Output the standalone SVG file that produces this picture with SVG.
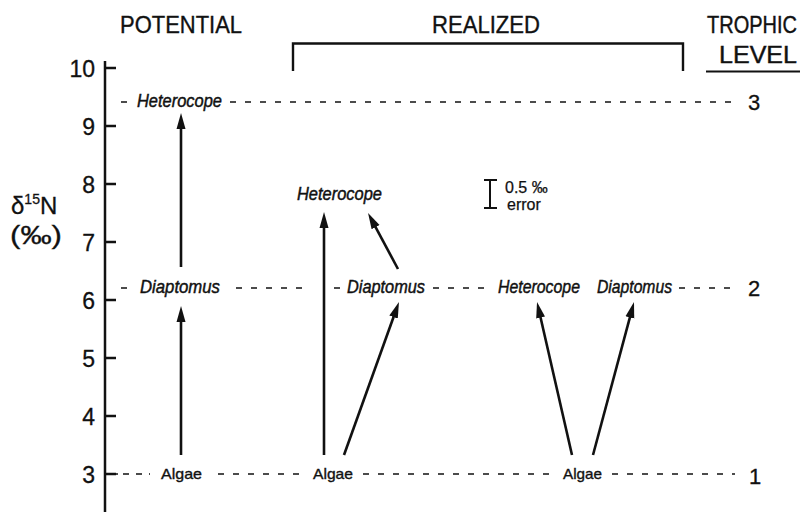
<svg xmlns="http://www.w3.org/2000/svg" width="803" height="512" viewBox="0 0 803 512">
<style>
.hdr{font-family:"Liberation Sans",Arial,sans-serif;font-size:23px;fill:#111;stroke:#111;stroke-width:0.35}
.num{font-family:"Liberation Sans",Arial,sans-serif;font-size:23px;fill:#111;stroke:#111;stroke-width:0.3}
.sp{font-family:"Liberation Sans",Arial,sans-serif;font-size:18px;font-style:italic;fill:#111;stroke:#111;stroke-width:0.45}
.alg{font-family:"Liberation Sans",Arial,sans-serif;font-size:15px;fill:#111;stroke:#111;stroke-width:0.35}
.sm{font-family:"Liberation Sans",Arial,sans-serif;font-size:16px;fill:#111;stroke:#111;stroke-width:0.25}
.ax{stroke:#111;stroke-width:2.5;fill:none}
.dash{stroke:#111;stroke-width:1.6;stroke-dasharray:6 9;fill:none}
.arr{stroke:#111;stroke-width:2.6;fill:none;marker-end:url(#ah)}
</style>
<defs>
<marker id="ah" markerUnits="userSpaceOnUse" markerWidth="18" markerHeight="10" refX="4" refY="5" orient="auto">
<path d="M0,0.5 L16,5 L0,9.5 z" fill="#111"/>
</marker>
</defs>
<rect width="803" height="512" fill="#fff"/>

<!-- headers -->
<g id="headers">
<text class="hdr" x="120" y="33" textLength="122" lengthAdjust="spacingAndGlyphs">POTENTIAL</text>
<text class="hdr" x="432" y="33" textLength="108" lengthAdjust="spacingAndGlyphs">REALIZED</text>
<text class="hdr" transform="translate(707,33) scale(1,1.2)" x="0" y="0" style="font-size:19.5px" textLength="90" lengthAdjust="spacingAndGlyphs">TROPHIC</text>
<text class="hdr" transform="translate(719,63) scale(1,1.2)" x="0" y="0" style="font-size:20px" textLength="78" lengthAdjust="spacingAndGlyphs">LEVEL</text>
<line x1="706" y1="71.5" x2="800" y2="71.5" stroke="#111" stroke-width="1.8"/>
<path d="M293,71 V43.5 H683 V71" fill="none" stroke="#111" stroke-width="2.4"/>
</g>

<!-- axis -->
<g id="axis">
<line class="ax" x1="105" y1="61" x2="105" y2="512"/>
<path class="ax" d="M105,68 H116 M105,126 H116 M105,184 H116 M105,242 H116 M105,300 H116 M105,358 H116 M105,416 H116 M105,474 H116"/>
<g class="num" text-anchor="end">
<text x="95" y="77">10</text>
<text x="95" y="135">9</text>
<text x="95" y="193">8</text>
<text x="95" y="251">7</text>
<text x="95" y="309">6</text>
<text x="95" y="367">5</text>
<text x="95" y="425">4</text>
<text x="95" y="483">3</text>
</g>
<text class="num" x="11" y="214" style="font-size:24px">δ<tspan style="font-size:14px" dy="-10">15</tspan><tspan style="font-size:24px" dy="10">N</tspan></text>
<text class="num" x="10" y="244" style="font-size:25px" textLength="52" lengthAdjust="spacingAndGlyphs">(‰)</text>
</g>

<!-- dashed level lines -->
<g id="levels">
<path class="dash" d="M121,102 H130 M230,102 H734"/>
<path class="dash" d="M121,288 H130 M236,288 H306 M334,288 H341 M433,288 H492 M679,288 H735"/>
<path class="dash" style="stroke-dasharray:2 5 6 7 6 7" d="M116,474 H150"/>
<path class="dash" d="M218,474 H306 M363,474 H553 M612,474 H735"/>
<text class="num" x="748" y="110" style="font-size:22px">3</text>
<text class="num" x="748" y="296" style="font-size:22px">2</text>
<text class="num" x="749" y="484" style="font-size:22px">1</text>
</g>

<!-- nodes -->
<g id="pot-heterocope"><text class="sp" x="137" y="107" textLength="85" lengthAdjust="spacingAndGlyphs">Heterocope</text></g>
<g id="pot-diaptomus"><text class="sp" x="140" y="293" textLength="80" lengthAdjust="spacingAndGlyphs">Diaptomus</text></g>
<g id="pot-algae"><text class="alg" x="161" y="479" textLength="41" lengthAdjust="spacingAndGlyphs">Algae</text></g>

<g id="real-heterocope"><text class="sp" x="297" y="200" textLength="85" lengthAdjust="spacingAndGlyphs">Heterocope</text></g>
<g id="real-diaptomus1"><text class="sp" x="347" y="293" textLength="78" lengthAdjust="spacingAndGlyphs">Diaptomus</text></g>
<g id="real-heterocope2"><text class="sp" x="498" y="293" textLength="82" lengthAdjust="spacingAndGlyphs">Heterocope</text></g>
<g id="real-diaptomus2"><text class="sp" x="597" y="293" textLength="75" lengthAdjust="spacingAndGlyphs">Diaptomus</text></g>
<g id="real-algae1"><text class="alg" x="313" y="479" textLength="40" lengthAdjust="spacingAndGlyphs">Algae</text></g>
<g id="real-algae2"><text class="alg" x="563" y="479" textLength="39" lengthAdjust="spacingAndGlyphs">Algae</text></g>

<!-- error bar -->
<g id="error">
<path d="M490,180 V208 M484,180 H497 M484,208 H497" stroke="#111" stroke-width="2" fill="none"/>
<text class="sm" x="505" y="193">0.5 ‰</text>
<text class="sm" x="507" y="210">error</text>
</g>

<!-- connectors -->
<g id="connectors">
<line class="arr" x1="181" y1="267" x2="181" y2="125"/>
<line class="arr" x1="181" y1="455" x2="181" y2="318"/>
<line class="arr" x1="324" y1="455" x2="324" y2="224"/>
<line class="arr" x1="344" y1="455" x2="394.9" y2="313.3"/>
<line class="arr" x1="398" y1="269" x2="373.7" y2="223.6"/>
<line class="arr" x1="572" y1="455" x2="539.7" y2="313.7"/>
<line class="arr" x1="593" y1="455" x2="630.9" y2="313.6"/>
</g>
</svg>
